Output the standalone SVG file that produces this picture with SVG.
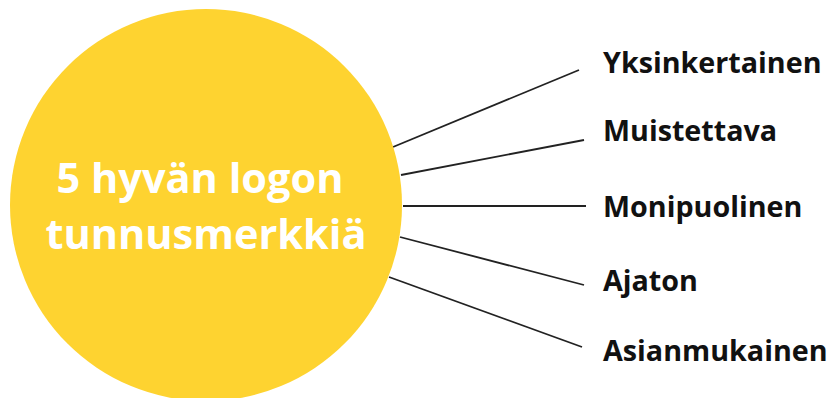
<svg xmlns="http://www.w3.org/2000/svg" width="828" height="398" viewBox="0 0 828 398">
<style>
.hub{fill:#FED330}
.title{font-family:"Open Sans","Liberation Sans",sans-serif;font-weight:700;font-size:41.5px;fill:#ffffff;text-anchor:middle}
.lbl{font-family:"Open Sans","Liberation Sans",sans-serif;font-weight:700;font-size:28.7px;fill:#111111}
.conn line{stroke:#222222;stroke-width:1.8}
</style>
<rect width="828" height="398" fill="#ffffff"/>
<g id="connectors" class="conn">
<line x1="393" y1="147" x2="579" y2="70"/>
<line x1="401" y1="175" x2="584" y2="140"/>
<line x1="403" y1="206" x2="586" y2="206"/>
<line x1="400" y1="237" x2="584" y2="285"/>
<line x1="389" y1="277" x2="582" y2="347"/>
</g>
<g id="hub">
<circle class="hub" cx="206" cy="205" r="196"/>
<text class="title" x="200" y="193">5 hyvän logon</text>
<text class="title" x="206" y="249">tunnusmerkkiä</text>
</g>
<g id="n1"><text class="lbl" x="603" y="73">Yksinkertainen</text></g>
<g id="n2"><text class="lbl" x="603" y="141">Muistettava</text></g>
<g id="n3"><text class="lbl" x="603" y="217">Monipuolinen</text></g>
<g id="n4"><text class="lbl" x="603" y="291">Ajaton</text></g>
<g id="n5"><text class="lbl" x="603" y="361">Asianmukainen</text></g>
</svg>
